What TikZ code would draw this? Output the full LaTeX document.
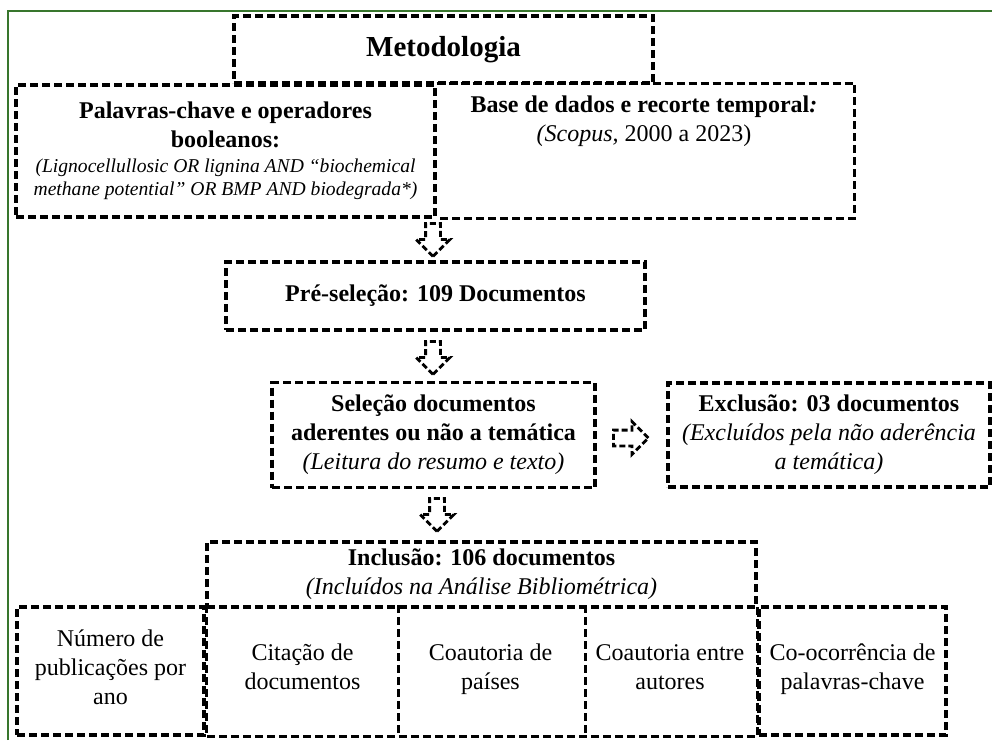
\documentclass[tikz,border=0pt]{standalone}
\usepackage{fontspec}
\setmainfont{Liberation Serif}
\usetikzlibrary{shapes.arrows}
\definecolor{moldura}{RGB}{56,118,45}

\begin{document}
\begin{tikzpicture}[x=0.5pt,y=-0.5pt,
 linha/.style={line width=1.6pt,dash pattern=on 4pt off 2pt},
 box/.style={draw,linha,inner sep=0pt,align=center,font=\fontsize{12}{14.5}\selectfont},
 analise/.style={box,minimum height=64pt,execute at begin node=\strut,execute at end node=\strut},
 seta/.style={single arrow,draw,fill=white,line width=1.4pt,dash pattern=on 3pt off 1.5pt,inner sep=3pt,single arrow head extend=4.75pt,minimum height=16.5pt}]
 \useasboundingbox (0,0) rectangle (992,740);
 \draw[moldura,line width=1pt] (8,740) -- (8,11) -- (992,11);

 % topo
 \node[box,minimum width=209.5pt,minimum height=33.5pt,font=\fontsize{14.5}{17}\selectfont\bfseries] (meto) at (443.5,49.5) {Metodologia};
 \node[box,minimum width=209.5pt,minimum height=66pt] (palavras) at (225.5,151)
  {\textbf{Palavras-chave e operadores}\\ \textbf{booleanos:}\\[-2pt]
   {\fontsize{9.8}{11.5}\selectfont\itshape (Lignocellullosic OR lignina AND “biochemical}\\[-3pt]
   {\fontsize{9.8}{11.5}\selectfont\itshape methane potential” OR BMP AND biodegrada*)}};
 \node[box,draw=none,minimum width=209pt,minimum height=66pt] (base) at (644,151) {};
 \draw[linha] (palavras.north east) -- (base.north east) -- (base.south east) -- (palavras.south east);
 \node[anchor=north,inner sep=0pt,align=center,font=\fontsize{12}{14.5}\selectfont] (basetxt) at ([yshift=-6pt]base.north)
  {\textbf{Base de dados e recorte temporal\textit{:}}\\ \textit{(Scopus,} 2000 a 2023)};

 \node[seta,rotate=-90,anchor=tail] (s1) at (433,222) {};
 \node[box,minimum width=209.5pt,minimum height=34pt,font=\fontsize{12}{14.5}\selectfont\bfseries] (pre) at (435.5,296) {Pré-seleção: 109 Documentos};
 \node[seta,rotate=-90,anchor=tail] (s2) at (433,340) {};

 % selecao e exclusao
 \node[box,minimum width=161.5pt,minimum height=52.5pt] (selecao) at (433.5,435)
  {\textbf{Seleção documentos}\\ \textbf{aderentes ou não a temática}\\ \textit{(Leitura do resumo e texto)}};
 \node[seta,anchor=tail,minimum height=17.5pt,inner sep=3.25pt,single arrow head extend=4.25pt] (s4) at (612,438) {};
 \node[box,minimum width=161pt,minimum height=52pt] (exclusao) at (829,435)
  {\textbf{Exclusão: 03 documentos}\\ \textit{(Excluídos pela não aderência}\\ \textit{a temática)}};
 \node[seta,rotate=-90,anchor=tail] (s3) at (437,497) {};

 % inclusao
 \node[box,minimum width=274.5pt,minimum height=32.5pt] (inclusao) at (481.5,574.5)
  {\textbf{Inclusão: 106 documentos}\\ \textit{(Incluídos na Análise Bibliométrica)}};

 % analises
 \node[analise,minimum width=93.5pt] (b1) at (110.5,671) {Número de\\publicações por\\ano};
 \node[analise,draw=none,minimum width=94.5pt] (b2) at (302.5,671) {Citação de\\documentos};
 \node[analise,draw=none,minimum width=93.5pt] (b3) at (490.5,671) {Coautoria de\\países};
 \node[analise,draw=none,minimum width=86pt] (b4) at (670,671) {Coautoria entre\\autores};
 \node[analise,minimum width=93.5pt] (b5) at (852.5,671) {Co-ocorrência de\\palavras-chave};
 \draw[linha] (b2.north west) -- (b2.south west) -- (b4.south east) -- (b4.north east);
 \draw[linha] (b2.north east) -- (b2.south east);
 \draw[linha] (b3.north east) -- (b3.south east);
\end{tikzpicture}
\end{document}
